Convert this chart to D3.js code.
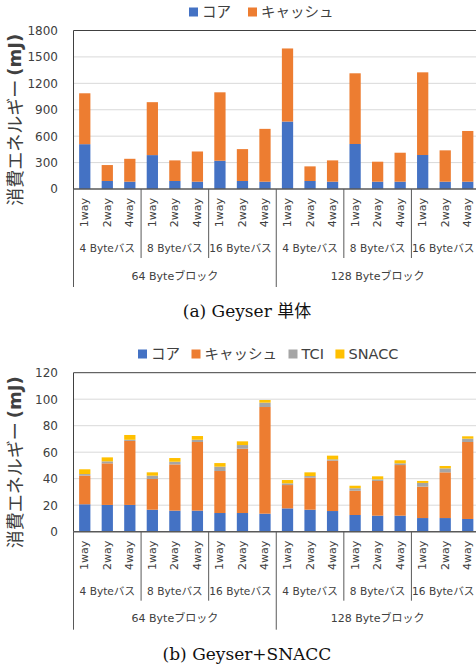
<!DOCTYPE html>
<html>
<head>
<meta charset="utf-8">
<script src="https://cdn.jsdelivr.net/npm/d3@7"></script>
<style>
body { margin: 0; background: #fff; }
svg { display: block; }
</style>
</head>
<body>
<script>
// categories
var ways = ['1way', '2way', '4way']
var buses = ['4 Byteバス', '8 Byteバス', '16 Byteバス']
var blocks = ['64 Byteブロック', '128 Byteブロック']

// (a) Geyser alone
var aSeries = ['コア', 'キャッシュ']
var aCore = [509, 91, 83, 385, 91, 83, 321, 91, 83, 766, 91, 83, 511, 83, 83, 386, 83, 83]
var aCache = [578, 181, 260, 601, 234, 343, 777, 362, 600, 830, 166, 242, 803, 227, 329, 939, 356, 576]
var aTicks = [0, 300, 600, 900, 1200, 1500, 1800]

// (b) Geyser + SNACC
var bSeries = ['コア', 'キャッシュ', 'TCI', 'SNACC']
var bCore = [20.7, 20.2, 20.2, 16.6, 15.9, 15.9, 14.1, 14.1, 13.6, 17.6, 16.6, 15.6, 12.6, 12.1, 12.1, 10.3, 10.3, 9.6]
var bCache = [21.6, 31.4, 48.3, 23.2, 34.9, 51.8, 31.7, 48.5, 80.5, 17.6, 24.2, 38.0, 18.3, 26.2, 38.2, 23.7, 34.5, 58.1]
var bTci = [1.2, 1.5, 0.9, 2.5, 2.0, 1.7, 3.3, 2.8, 3.3, 1.3, 1.2, 1.0, 1.9, 1.2, 1.3, 2.8, 3.0, 2.5]
var bSnacc = [3.6, 3.0, 3.6, 2.5, 2.8, 2.8, 2.7, 2.8, 2.0, 2.5, 2.8, 2.8, 1.9, 2.3, 2.3, 1.5, 1.8, 1.8]
var bTicks = [0, 20, 40, 60, 80, 100, 120]

var colors = ['#4472C4', '#ED7D31', '#A5A5A5', '#FFC000']
var latin = 'DejaVu Sans, Noto Sans CJK JP, sans-serif'
var cjk = 'Noto Sans CJK JP, DejaVu Sans, sans-serif'

var svg = d3.select('body').append('svg')
    .attr('width', 476)
    .attr('height', 667)

var draw_chart = (o) => {
    var g = svg.append('g')
    var idx = d3.range(o.values[0].length)

    var x = d3.scaleBand()
        .domain(idx)
        .range([o.left, o.right])
        .paddingInner(0.5)
        .paddingOuter(0.25)
    var y = d3.scaleLinear()
        .domain([0, d3.max(o.ticks)])
        .range([o.axisY, o.top])

    // gridlines
    g.selectAll('.grid').data(o.ticks.slice(1, -1)).join('line')
        .attr('x1', o.left).attr('x2', o.right)
        .attr('y1', d => y(d)).attr('y2', d => y(d))
        .attr('stroke', '#D9D9D9').attr('stroke-width', 1)

    // y axis labels
    var yAxis = d3.axisLeft(y).tickValues(o.ticks).tickFormat(d3.format('d')).tickSize(0).tickPadding(0)
    var ya = g.append('g').attr('transform', 'translate(58,0)').call(yAxis)
    ya.select('.domain').remove()
    ya.selectAll('text')
        .attr('font-family', latin).attr('font-size', 12).attr('fill', '#404040')

    // stacked bars
    var rows = idx.map(i => {
        var r = {}
        o.series.forEach((s, k) => { r[s] = o.values[k][i] })
        return r
    })
    var stack = d3.stack().keys(o.series)(rows)
    g.selectAll('.layer').data(stack).join('g')
        .attr('fill', (d, k) => colors[k])
        .selectAll('rect').data(d => d).join('rect')
        .attr('x', (d, i) => x(i))
        .attr('width', x.bandwidth())
        .attr('y', d => y(d[1]))
        .attr('height', d => y(d[0]) - y(d[1]))

    // frame lines
    g.append('line').attr('x1', o.left).attr('x2', o.right)
        .attr('y1', o.top).attr('y2', o.top)
        .attr('stroke', '#404040').attr('stroke-width', 1)
    g.append('line').attr('x1', o.left).attr('x2', o.left)
        .attr('y1', o.top).attr('y2', o.axisY)
        .attr('stroke', '#404040').attr('stroke-width', 1)
    g.append('line').attr('x1', o.left).attr('x2', o.right)
        .attr('y1', o.axisY).attr('y2', o.axisY)
        .attr('stroke', '#595959').attr('stroke-width', 1.5)

    // category labels
    g.selectAll('.way').data(idx).join('text')
        .attr('transform', i => 'translate(' + (x(i) + x.bandwidth() / 2) + ',' + (o.axisY + 9) + ') rotate(-90)')
        .attr('text-anchor', 'end')
        .attr('dominant-baseline', 'central')
        .attr('font-family', latin).attr('font-size', 11).attr('fill', '#404040')
        .text(i => ways[i % 3])

    // group separators and labels
    var gw = (o.right - o.left) / 6
    d3.range(7).forEach(k => {
        var outer = k % 3 == 0
        g.append('line')
            .attr('x1', o.left + k * gw).attr('x2', o.left + k * gw)
            .attr('y1', o.axisY).attr('y2', o.axisY + (outer ? 98 : 69))
            .attr('stroke', '#595959').attr('stroke-width', 1)
    })
    d3.range(6).forEach(k => {
        g.append('text')
            .attr('x', o.left + (k + 0.5) * gw - (k % 3 == 2 ? 2 : 0)).attr('y', o.axisY + 59)
            .attr('text-anchor', 'middle').attr('dominant-baseline', 'central')
            .attr('font-family', latin).attr('font-size', 10.6).attr('fill', '#404040')
            .text(buses[k % 3])
    })
    blocks.forEach((b, k) => {
        g.append('text')
            .attr('x', o.left + (k * 3 + 1.5) * gw).attr('y', o.axisY + 87)
            .attr('text-anchor', 'middle').attr('dominant-baseline', 'central')
            .attr('font-family', latin).attr('font-size', 11).attr('fill', '#404040')
            .text(b)
    })

    // y title
    var t = g.append('text')
        .attr('transform', 'translate(14,' + ((o.top + o.axisY) / 2 + 10) + ') rotate(-90)')
        .attr('text-anchor', 'middle').attr('dominant-baseline', 'central')
        .attr('font-family', cjk).attr('font-size', 18).attr('fill', '#404040')
    t.append('tspan').text('消費エネルギー ')
    t.append('tspan').attr('font-family', latin).attr('font-weight', 'bold').text('(mJ)')

    // legend
    var lx = o.legendX
    o.series.forEach((s, k) => {
        g.append('rect')
            .attr('x', lx).attr('y', o.legendY - 4.5)
            .attr('width', 9).attr('height', 9)
            .attr('fill', colors[k])
        var lt = g.append('text')
            .attr('x', lx + 13).attr('y', o.legendY)
            .attr('dominant-baseline', 'central')
            .attr('font-family', latin).attr('font-size', 14.5).attr('fill', '#404040')
            .text(s)
        lx = lx + 13 + lt.node().getComputedTextLength() + o.legendGap
    })

    // caption
    g.append('text')
        .attr('x', 247).attr('y', o.axisY + 122)
        .attr('text-anchor', 'middle').attr('dominant-baseline', 'central')
        .attr('font-family', 'DejaVu Serif, Noto Sans CJK JP, serif')
        .attr('font-size', 17).attr('fill', '#111')
        .text(o.caption)
}

draw_chart({
    series: aSeries, values: [aCore, aCache], ticks: aTicks,
    left: 73.5, right: 479, top: 30.5, axisY: 189,
    legendX: 189, legendY: 12, legendGap: 17,
    caption: '(a) Geyser 単体'
})

draw_chart({
    series: bSeries, values: [bCore, bCache, bTci, bSnacc], ticks: bTicks,
    left: 73.5, right: 479, top: 372.7, axisY: 531.7,
    legendX: 138, legendY: 354, legendGap: 11.5,
    caption: '(b) Geyser+SNACC'
})
</script>
</body>
</html>
